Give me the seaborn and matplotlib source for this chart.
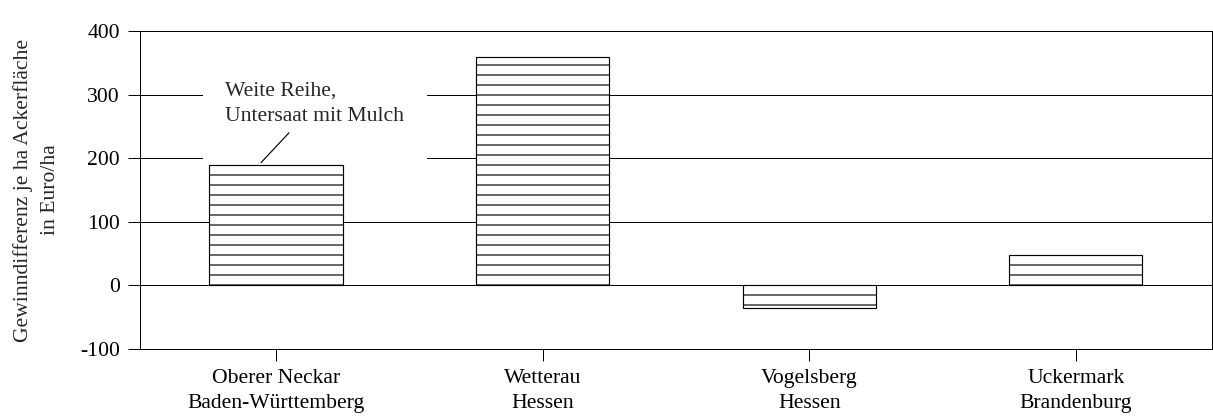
import matplotlib
matplotlib.use("Agg")
import matplotlib.pyplot as plt
import seaborn as sns
import pandas as pd

# values
regions = ["Oberer Neckar\nBaden-Württemberg", "Wetterau\nHessen",
           "Vogelsberg\nHessen", "Uckermark\nBrandenburg"]
gewinn = [190, 359, -36, 48]
y_ticks = [-100, 0, 100, 200, 300, 400]
note = "Weite Reihe,\nUntersaat mit Mulch"

df = pd.DataFrame({"region": regions, "gewinn": gewinn})

sns.set_style("ticks")
plt.rcParams["font.family"] = ["Liberation Serif", "DejaVu Serif"]
plt.rcParams["hatch.linewidth"] = 0.7
plt.rcParams["hatch.color"] = "black"

fig = plt.figure(figsize=(1213 / 120, 417 / 120), dpi=120)
ax = fig.add_axes([0.1154, 0.163, 0.8836, 0.7627])

sns.barplot(data=df, x="region", y="gewinn", color="white", width=0.5,
            edgecolor="black", linewidth=0.7, hatch="--", zorder=3, ax=ax)

ax.set_xlim(-0.51, 3.51)
ax.set_ylim(-100, 400)
ax.set_yticks(y_ticks)
ax.set_yticklabels([str(t) for t in y_ticks])
ax.set_axisbelow(True)
ax.yaxis.grid(True, color="black", linewidth=0.6)

for side in ["top", "right", "left", "bottom"]:
    ax.spines[side].set_visible(True)
    ax.spines[side].set_linewidth(0.6)
    ax.spines[side].set_color("black")

ax.tick_params(axis="both", direction="out", length=7, width=0.6,
               colors="black", labelsize=13, pad=5)
for lbl in ax.get_xticklabels():
    lbl.set_linespacing(1.42)
ax.set_xlabel("")
ax.set_ylabel("Gewinndifferenz je ha Ackerfläche\nin Euro/ha", fontsize=13,
              labelpad=12, linespacing=1.6)

# label box (the blank last line widens the white box downward)
ax.text(-0.19, 321, note + "\n", ha="left", va="top", fontsize=13,
        linespacing=1.47, zorder=2,
        bbox=dict(boxstyle="square,pad=1.05", fc="white", ec="none"))
ax.annotate("", xy=(-0.056, 193), xytext=(0.049, 240), zorder=4,
            arrowprops=dict(arrowstyle="-", color="black", lw=0.7,
                            shrinkA=0, shrinkB=0))

fig.savefig("out.png", dpi=120)
